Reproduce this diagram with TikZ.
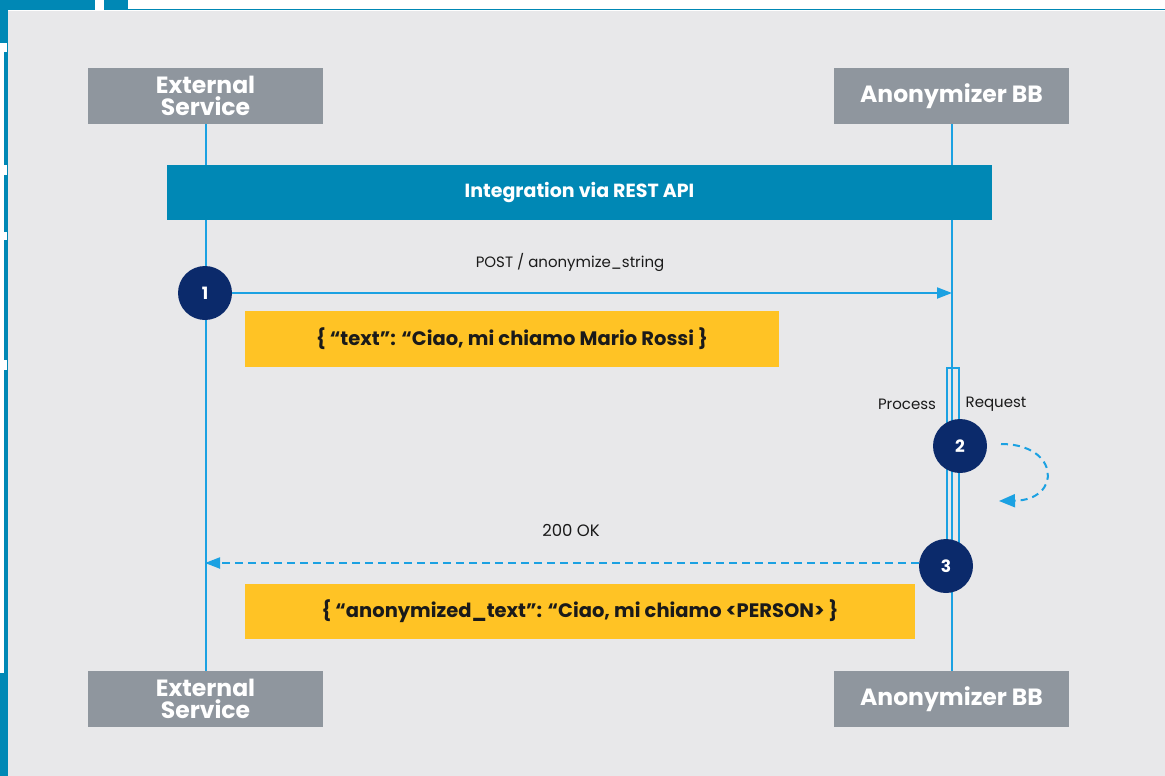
\documentclass[tikz,border=0pt]{standalone}
\usepackage{fontspec}
\setmainfont{Poppins}
\usetikzlibrary{arrows.meta}
\definecolor{panel}{HTML}{E8E8EA}
\definecolor{hdr}{HTML}{8F969E}
\definecolor{tealc}{HTML}{0088B5}
\definecolor{lifec}{HTML}{1BA1E2}
\definecolor{navy}{HTML}{0B2A6B}
\definecolor{gold}{HTML}{FFC325}
\definecolor{ink}{HTML}{1A1A1A}
\begin{document}
\begin{tikzpicture}[x=1pt,y=-1pt,
  actor/.style={fill=hdr, minimum width=235pt, minimum height=56pt, text=white,
    font=\fontsize{23.5}{21.5}\selectfont\bfseries, align=center, inner sep=0pt},
  banner/.style={fill=tealc, minimum width=825pt, minimum height=55pt, text=white,
    font=\fontsize{19}{22}\selectfont\bfseries, inner sep=0pt},
  payload/.style={fill=gold, minimum height=56pt, text=ink,
    font=\fontsize{19.5}{22}\selectfont\bfseries, inner sep=0pt},
  stepnum/.style={circle, fill=navy, minimum size=54pt, inner sep=0pt, text=white,
    font=\fontsize{17}{19}\selectfont\bfseries},
  lbl/.style={text=ink, font=\fontsize{15}{17}\selectfont, inner sep=0pt},
  lifeln/.style={draw=lifec, line width=2pt},
  msg/.style={draw=lifec, line width=2pt, -{Triangle[length=15pt,width=11pt]}},
  reply/.style={msg, dash pattern=on 8pt off 5pt},
  loopmsg/.style={draw=lifec, line width=2pt, dash pattern=on 7pt off 5pt,
    -{Triangle[length=16pt,width=13pt]}},
]
\useasboundingbox (0,0) rectangle (1165,776);
% frame
\fill[white] (0,0) rectangle (1165,776);
\fill[panel] (8,11) rectangle (1165,776);
\fill[tealc] (4,0) rectangle (8,776);
\fill[tealc] (0,0) rectangle (8,43);
\fill[tealc] (0,673) rectangle (8,776);
\fill[tealc] (0,0) rectangle (95,10);
\fill[tealc] (104,0) rectangle (128,10);
\fill[tealc] (128,9) rectangle (1165,10.5);
\fill[white] (0,43) rectangle (7,52);
\fill[white] (0,165) rectangle (7,175);
\fill[white] (0,232) rectangle (7,240);
\fill[white] (0,360) rectangle (7,370);

% actors
\node[actor] (esTop) at (205.5,96) {External\\Service};
\node[actor] (abTop) at (951.5,96) {Anonymizer BB};
\node[actor] (esBot) at (205.5,699) {External\\Service};
\node[actor] (abBot) at (951.5,699) {Anonymizer BB};

% lifelines
\draw[lifeln] (esTop.south) -- (esBot.north);
\draw[lifeln] (abTop.south) -- (abBot.north);

% activation bar
\draw[draw=lifec, line width=2pt] (946.5,368) rectangle (959,548);

% banner
\node[banner] (api) at (579.5,192.5) {Integration via REST API};

% step 1
\node[stepnum] (s1) at (205,293) {1};
\coordinate (abIn) at (952,293);
\draw[msg] (s1.east) -- (abIn);
\node[lbl] (postlbl) at (570,262) {POST / anonymize\_string};
\node[payload, minimum width=534pt] (req) at (512,339) {\raisebox{-1.5pt}{\{ “text”: “Ciao, mi chiamo Mario Rossi \}}};

% step 2
\node[lbl] (proc) at (907,404) {Process};
\node[lbl] (reqlbl) at (996,404) {Request};
\node[stepnum] (s2) at (960,446) {2};
\coordinate (loopA) at (1001,444);
\coordinate (loopB) at (999,501);
\draw[loopmsg] (loopA) .. controls (1060,444) and (1062,500) .. (loopB);

% step 3
\node[stepnum] (s3) at (946,566) {3};
\coordinate (esIn) at (205,563);
\draw[reply] (s3.west |- esIn) -- (esIn);
\node[lbl, font=\fontsize{16.5}{18}\selectfont] (oklbl) at (571,530) {200 OK};
\node[payload, minimum width=670pt, minimum height=55pt] (resp) at (580,611.5) {\raisebox{-1.5pt}{\{ “anonymized\_text”: “Ciao, mi chiamo <PERSON> \}}};
\end{tikzpicture}
\end{document}
